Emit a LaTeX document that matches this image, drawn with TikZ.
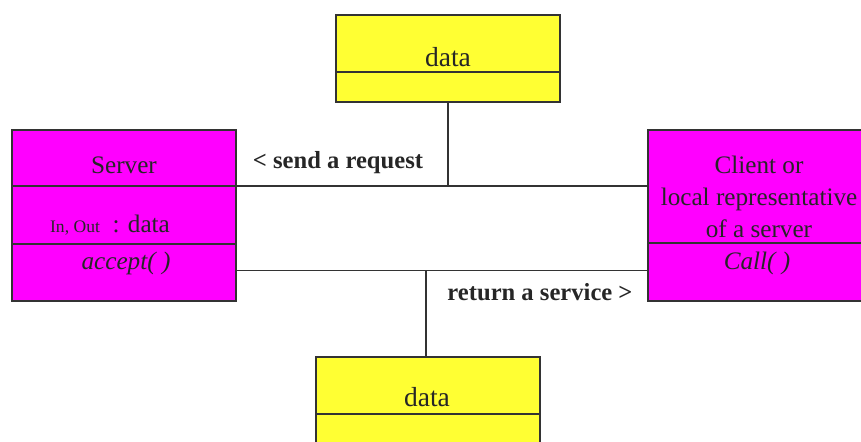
\documentclass[tikz,border=0pt]{standalone}
\usepackage{fontspec}
\setmainfont{Liberation Serif}
\usepackage{tikz}
\usetikzlibrary{positioning,calc}
\definecolor{umlYel}{HTML}{FFFF33}
\definecolor{umlMag}{HTML}{FF00FF}
\definecolor{umlLine}{HTML}{333333}
\begin{document}
\begin{tikzpicture}[x=0.03cm,y=-0.03cm,
  part/.style={draw=umlLine,line width=1.6pt,inner sep=0pt,outer sep=0pt,minimum width=6.72cm},
  cls/.style={part,fill=umlMag},
  dat/.style={part,fill=umlYel},
  txt/.style={font=\fontsize{21.5}{27}\selectfont,inner sep=0pt,text=black!85},
  dtxt/.style={txt,font=\fontsize{23.5}{27}\selectfont},
  lbl/.style={font=\fontsize{21}{25}\selectfont\bfseries,inner sep=0pt,text=black!85},
  link/.style={draw=umlLine,line width=1.6pt}]
  \useasboundingbox (0,0) rectangle (861,441);
  % data above
  \node[dat,anchor=north west,minimum height=1.71cm] (dt1) at (336,15) {};
  \node[dat,anchor=north,minimum height=0.9cm] (dt2) at (dt1.south) {};
  \node[dtxt] (dtname) at (448,57) {data};
  % server
  \node[cls,anchor=north west,minimum height=1.68cm] (srv1) at (12,130) {};
  \node[cls,anchor=north,minimum height=1.74cm] (srv2) at (srv1.south) {};
  \node[cls,anchor=north,minimum height=1.71cm] (srv3) at (srv2.south) {};
  \node[txt] (srvname) at (124,165) {Server};
  \node[txt] (srvattr) at (110,225) {{\fontsize{15}{18}\selectfont In, Out}\ \ : data};
  \node[txt,font=\fontsize{21.5}{27}\selectfont\itshape] (srvop) at (126,263) {accept( )};
  % client
  \node[cls,anchor=north west,minimum height=3.39cm] (cli1) at (648,130) {};
  \node[cls,anchor=north,minimum height=1.74cm] (cli2) at (cli1.south) {};
  \node[txt,align=center] (cliname) at (759,197) {Client or\\local representative\\of a server};
  \node[txt,font=\fontsize{21.5}{27}\selectfont\itshape] (cliop) at (757,263) {Call( )};
  % data below
  \node[dat,anchor=north west,minimum height=1.71cm] (db1) at (316,357) {};
  \node[dat,anchor=north,minimum height=0.9cm] (db2) at (db1.south) {};
  \node[dtxt] (dbname) at (427,397) {data};
  % links
  \draw[link] (srv2.north east) -- (srv2.north east -| cli1.west);
  \draw[link] (dt2.south) -- (dt2.south |- srv2.north east);
  \draw[link] ($(srv3.east)+(0,-2)$) coordinate (rq) -- (rq -| cli2.west);
  \draw[link] ($(db1.north)+(-2,0)$) coordinate (rs) -- (rs |- rq);
  \node[lbl] (lreq) at (338,163) {< send a request};
  \node[lbl] (lret) at (540,292) {return a service >};
\end{tikzpicture}
\end{document}
